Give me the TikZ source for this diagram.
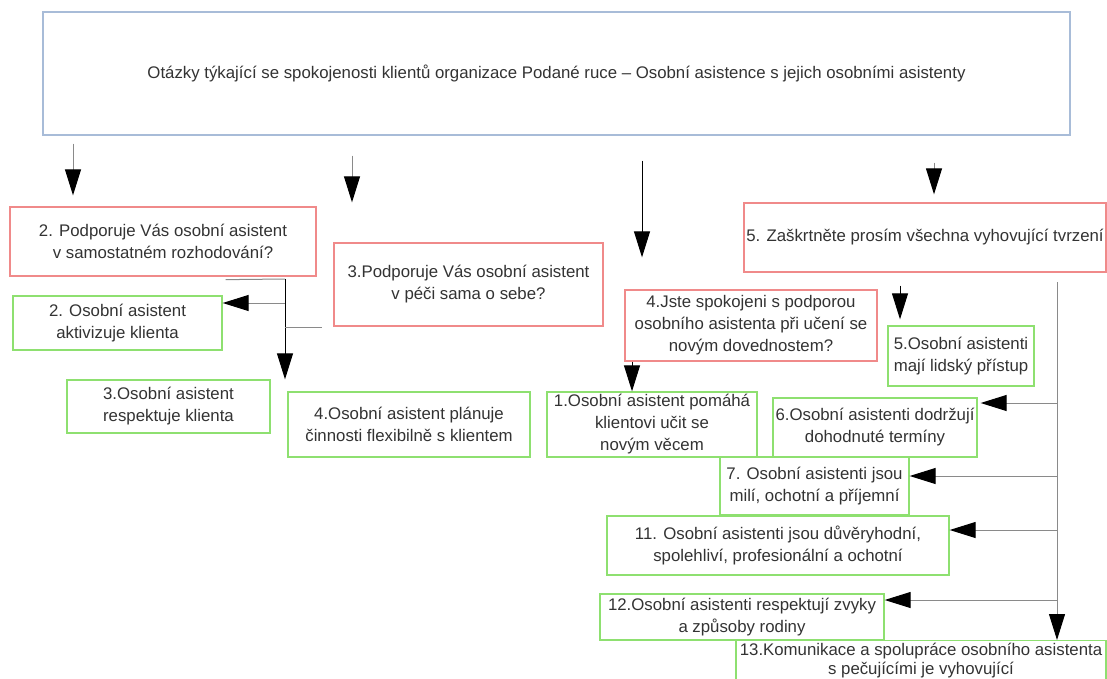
\documentclass[tikz,border=0pt]{standalone}
\usepackage{fontspec}
\setmainfont{Liberation Sans}
\usetikzlibrary{arrows.meta,calc}
\definecolor{txt}{HTML}{333333}
\definecolor{redb}{HTML}{F08A8A}
\definecolor{greenb}{HTML}{8EE070}
\definecolor{blueb}{HTML}{A8BCD8}
\definecolor{lgray}{HTML}{8A8A8A}
\tikzset{
  qbox/.style={draw=redb, line width=1.3pt, fill=white, align=center, text=txt, inner sep=0pt,
    font=\fontsize{16.8}{22}\selectfont},
  abox/.style={draw=greenb, line width=1.3pt, fill=white, align=center, text=txt, inner sep=0pt,
    font=\fontsize{16.8}{22}\selectfont},
  tip/.style={-{Triangle[length=26pt,width=16pt,color=black]}},
  garr/.style={tip, draw=lgray, line width=1pt},
  barr/.style={tip, draw=black, line width=1pt},
  gline/.style={draw=lgray, line width=1pt},
}
\begin{document}
\begin{tikzpicture}[x=1pt,y=-1pt]
\clip (0,0) rectangle (1107,679);
\fill[white] (0,0) rectangle (1107,679);
% title
\node[draw=blueb, line width=1.2pt, minimum width=1027pt, minimum height=123pt, inner sep=0pt, text=txt,
  font=\fontsize{16.8}{20}\selectfont] (T) at (556.5,73.5)
  {Otázky týkající se spokojenosti klientů organizace Podané ruce – Osobní asistence s jejich osobními asistenty};
% questions
\node[qbox, minimum width=306pt, minimum height=69pt] (B2) at (163,241.5)
  {2. Podporuje Vás osobní asistent\\ v samostatném rozhodování?};
\node[qbox, minimum width=269pt, minimum height=83pt] (B3) at (468.5,284.5)
  {3.Podporuje Vás osobní asistent\\ v péči sama o sebe?};
\node[qbox, minimum width=362pt, minimum height=69pt] (B5) at (925,237.5)
  {5. Zaškrtněte prosím všechna vyhovující tvrzení};
\node[qbox, minimum width=252pt, minimum height=71pt] (B4) at (751,325.5)
  {4.Jste spokojeni s podporou\\ osobního asistenta při učení se\\ novým dovednostem?};
% answers
\node[abox, minimum width=209pt, minimum height=54pt] (G2) at (117.5,323)
  {2. Osobní asistent\\ aktivizuje klienta};
\node[abox, minimum width=203pt, minimum height=53pt] (G3) at (168.5,406.5)
  {3.Osobní asistent\\ respektuje klienta};
\node[abox, minimum width=242pt, minimum height=65pt] (G4) at (409,424.5)
  {4.Osobní asistent plánuje\\ činnosti flexibilně s klientem};
\node[abox, minimum width=210pt, minimum height=65pt] (G1) at (652,424.5)
  {1.Osobní asistent pomáhá\\ klientovi učit se\\ novým věcem};
\node[abox, minimum width=146pt, minimum height=60pt] (G5) at (961,356)
  {5.Osobní asistenti\\ mají lidský přístup};
\node[abox, minimum width=204pt, minimum height=59pt] (G6) at (875,427.5)
  {6.Osobní asistenti dodržují\\ dohodnuté termíny};
\node[abox, minimum width=189pt, minimum height=58pt] (G7) at (814.5,486)
  {7. Osobní asistenti jsou\\ milí, ochotní a příjemní};
\node[abox, minimum width=342pt, minimum height=59pt] (G11) at (778,545.5)
  {11. Osobní asistenti jsou důvěryhodní,\\ spolehliví, profesionální a ochotní};
\node[abox, minimum width=284pt, minimum height=46pt] (G12) at (742,617)
  {12.Osobní asistenti respektují zvyky\\ a způsoby rodiny};
\node[abox, minimum width=370pt, minimum height=40pt, anchor=north,
  font=\fontsize{16.8}{19}\selectfont] (G13) at (921,640)
  {13.Komunikace a spolupráce osobního asistenta\\ s pečujícími je vyhovující};
% arrows from title
\draw[garr, shorten <=8pt, shorten >=11pt] (T.south -| 73,0) -- (B2.north -| 73,0);
\draw[garr, shorten <=20pt, shorten >=40pt] (T.south -| 352,0) -- (B3.north -| 352,0);
\draw[barr, shorten <=25pt, shorten >=32pt] (T.south -| 642,0) -- (B4.north -| 642,0);
\draw[garr, shorten <=27pt, shorten >=8pt] (T.south -| 934,0) -- (B5.north -| 934,0);
% left group
\coordinate (J1) at (285,279);
\draw[gline] ([shift={(-91,3)}]B2.south east) -- (J1);
\draw[barr] (J1) -- (J1 |- G3.north);
\draw[garr] (J1 |- 0,303) -- (G2.east |- 0,303);
\draw[gline] (J1 |- 0,327) -- ([xshift=-11pt]B3.west |- 0,327);
% question 5 and 4
\draw[barr, shorten <=13pt, shorten >=6pt] (B5.south -| 900,0) -- (G5.north -| 900,0);
\draw[barr] (B4.south -| 632,0) -- (G1.north -| 632,0);
% right group
\coordinate (R) at (1057,282);
\draw[garr] (R) -- (R |- G13.north);
\draw[garr, shorten >=3pt] (R |- 0,403) -- (G6.east |- 0,403);
\draw[garr] (R |- 0,476) -- (G7.east |- 0,476);
\draw[garr] (R |- 0,530) -- (G11.east |- 0,530);
\draw[garr] (R |- 0,600) -- (G12.east |- 0,600);
\end{tikzpicture}
\end{document}
